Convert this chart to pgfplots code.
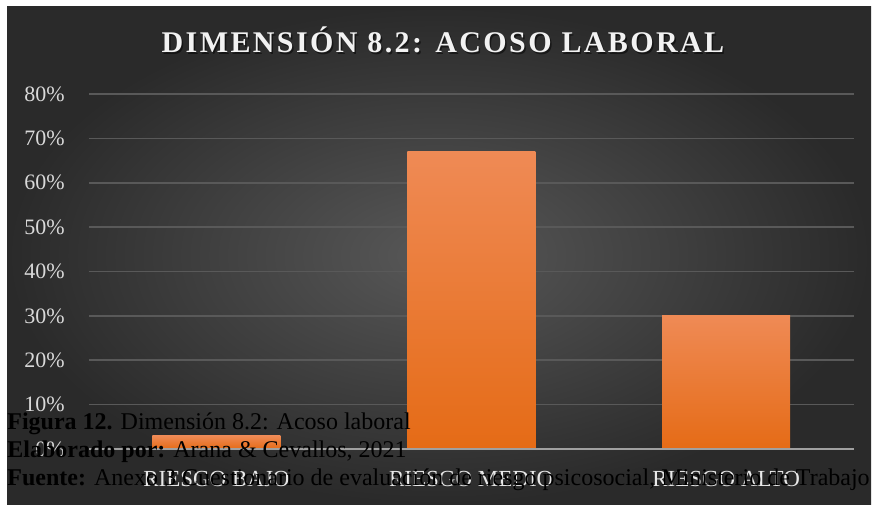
\documentclass[border=0pt]{standalone}
\usepackage{fontspec}
\setmainfont{Liberation Serif}
\newfontfamily\titlefont[LetterSpace=8]{Liberation Serif}
\usepackage{pgfplots}
\pgfplotsset{compat=1.18}

\definecolor{bgin}{HTML}{585858}
\definecolor{bgout}{HTML}{2A2A2A}
\definecolor{barTop}{HTML}{EF8A55}
\definecolor{barMid}{HTML}{F47F2E}
\definecolor{barBot}{HTML}{E56B16}
\definecolor{gridc}{HTML}{595959}
\definecolor{tickc}{HTML}{D9D9D9}
\definecolor{axisc}{HTML}{A0A0A0}

% pixel position (x from left, y from top) of the 873 x 504 px page, 1 px = 0.5pt
\newcommand{\px}[2]{({#1*0.5pt},{(504-#2)*0.5pt})}

\begin{document}
\begin{tikzpicture}
\useasboundingbox \px{0}{0} rectangle \px{873}{504};
\fill[white] \px{0}{0} rectangle \px{873}{504};
\shade[inner color=bgin, outer color=bgout] \px{7}{7} rectangle \px{871}{504};

% plot area: x 89..853 px, y 94..449 px
\begin{axis}[
    at={(44.5pt,27.5pt)}, anchor=south west,
    scale only axis,
    width=382.25pt, height=177.5pt,
    xmin=-0.5, xmax=2.5,
    ymin=0, ymax=80,
    axis line style={draw=none},
    major tick length=0pt,
    xtick={0,1,2},
    xticklabels={RIESGO BAJO, RIESGO MEDIO, RIESGO ALTO},
    ytick={0,10,...,80},
    yticklabels={0\%,10\%,20\%,30\%,40\%,50\%,60\%,70\%,80\%},
    ymajorgrids,
    grid style={gridc, line width=0.8pt},
    yticklabel style={font=\fontsize{11}{13}\selectfont, color=tickc, anchor=east, inner sep=0pt, xshift=-12pt},
    xticklabel style={font=\fontsize{11.5}{13}\selectfont, color=tickc!60!white, anchor=base, inner sep=0pt, yshift=-18.5pt},
    clip=false,
]
\addplot[ybar, bar width=64pt, bar shift=0pt, draw=none,
    top color=barTop, middle color=barMid, bottom color=barBot]
    coordinates {(0,3)};
\addplot[ybar, bar width=64pt, bar shift=0pt, draw=none,
    top color=barTop, middle color=barMid, bottom color=barBot]
    coordinates {(1,67)};
\addplot[ybar, bar width=64pt, bar shift=0pt, draw=none,
    top color=barTop, middle color=barMid, bottom color=barBot]
    coordinates {(2,30)};
\draw[axisc, line width=1pt] (rel axis cs:0,0) -- (rel axis cs:1,0);
\end{axis}

% title with soft shadow
\node[anchor=base, text=black, opacity=0.5] at \px{444.5}{54.5}
    {\titlefont\bfseries\fontsize{15}{17}\selectfont DIMENSIÓN 8.2: ACOSO LABORAL};
\node[anchor=base, text=white!95!black] at \px{443}{53}
    {\titlefont\bfseries\fontsize{15}{17}\selectfont DIMENSIÓN 8.2: ACOSO LABORAL};

% caption overlaid on the chart
\begin{scope}[every node/.style={anchor=base west, inner sep=0pt, text=black, font=\fontsize{12}{14}\selectfont}]
\node at \px{7}{429} {\textbf{Figura 12.} Dimensión 8.2: Acoso laboral};
\node at \px{7}{457} {\textbf{Elaborado por:} Arana \& Cevallos, 2021};
\node at \px{7}{485} {\textbf{Fuente:} Anexo 3 Cuestionario de evaluación de riesgo psicosocial, Ministerio de Trabajo};
\end{scope}
\end{tikzpicture}
\end{document}
